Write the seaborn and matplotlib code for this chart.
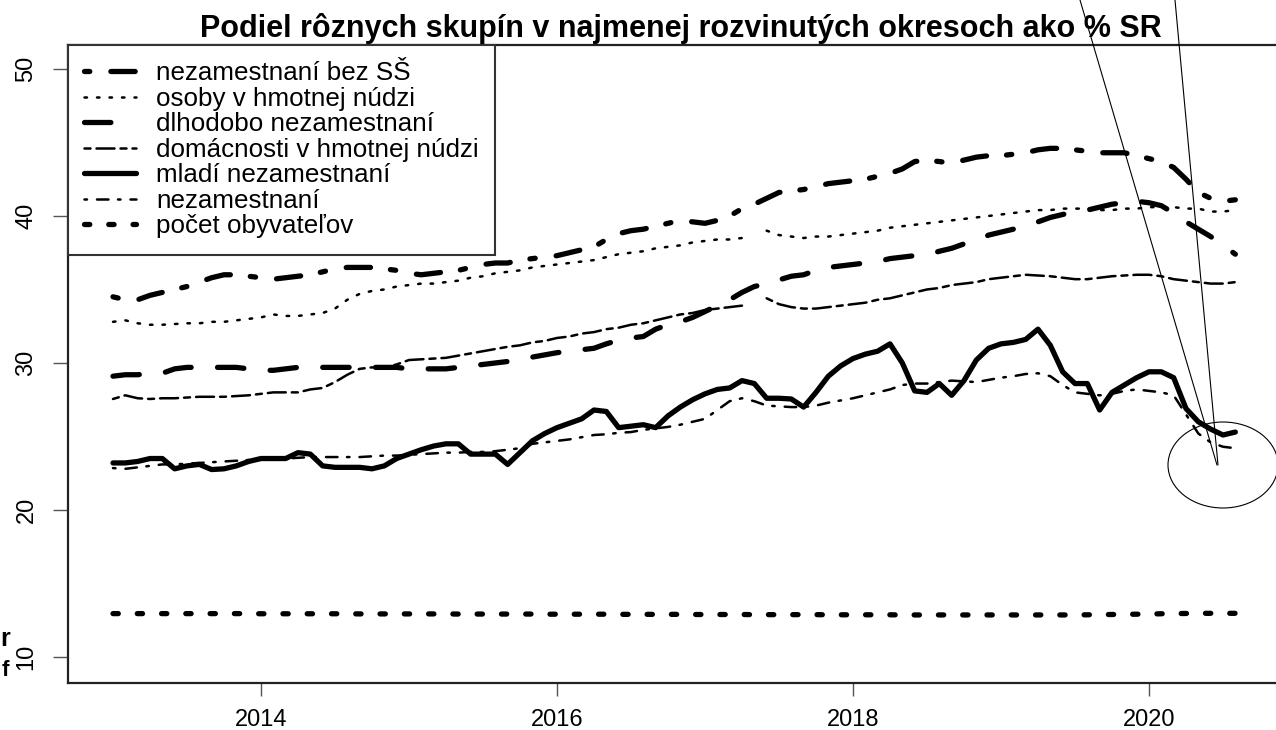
import numpy as np
import pandas as pd
import matplotlib.pyplot as plt
import seaborn as sns
from matplotlib.lines import Line2D
from matplotlib.patches import Ellipse

nan = np.nan
# monthly values, Jan 2013 - Aug 2020 (% of SR)
bez_ss = [34.5, 34.3, 34.3, 34.6, 34.8, 35.0, 35.2, 35.5, 35.8, 36.0,
          36.0, 35.9, 35.8, 35.7, 35.8, 35.9, 36.0, 36.2, 36.4, 36.5,
          36.5, 36.5, 36.4, 36.3, 36.1, 36.0, 36.1, 36.2, 36.3, 36.5,
          36.7, 36.8, 36.8, 37.0, 37.1, 37.2, 37.3, 37.5, 37.7, 37.9,
          38.4, 38.8, 39.0, 39.1, 39.3, 39.5, 39.7, 39.6, 39.5, 39.7,
          40.0, 40.5, 40.8, 41.2, 41.6, 41.7, 41.8, 42.0, 42.2, 42.3,
          42.4, 42.5, 42.7, 42.9, 43.2, 43.7, 43.8, 43.7, 43.6, 43.8,
          44.0, 44.1, 44.1, 44.2, 44.3, 44.5, 44.6, 44.6, 44.5, 44.4,
          44.3, 44.3, 44.3, 44.1, 43.9, 43.7, 43.3, 42.5, 41.6, 41.2,
          41.0, 41.1]
osoby = [32.8, 32.9, 32.7, 32.6, 32.6, 32.65, 32.7, 32.7, 32.8, 32.8,
         32.9, 33.0, 33.1, 33.3, 33.2, 33.2, 33.3, 33.4, 33.7, 34.3,
         34.7, 34.9, 35.0, 35.2, 35.3, 35.4, 35.4, 35.5, 35.6, 35.8,
         35.9, 36.1, 36.2, 36.3, 36.5, 36.6, 36.7, 36.8, 36.9, 37.0,
         37.2, 37.4, 37.5, 37.6, 37.8, 37.9, 38.0, 38.2, 38.3, 38.4,
         38.4, 38.5, nan, 39.0, 38.7, 38.6, 38.5, 38.6, 38.6, 38.7,
         38.8, 38.9, 39.0, 39.2, 39.3, 39.4, 39.5, 39.6, 39.7, 39.8,
         39.9, 40.0, 40.1, 40.2, 40.3, 40.4, 40.4, 40.5, 40.5, 40.5,
         40.4, 40.4, 40.5, 40.5, 40.6, 40.6, 40.6, 40.5, 40.5, 40.3,
         40.3, 40.4]
dlhodobo = [29.1, 29.2, 29.2, 29.3, 29.3, 29.6, 29.7, 29.7, 29.7, 29.7,
            29.7, 29.6, 29.5, 29.5, 29.6, 29.7, 29.7, 29.7, 29.7, 29.7,
            29.7, 29.7, 29.7, 29.7, 29.6, 29.6, 29.6, 29.6, 29.7, 29.8,
            29.9, 30.0, 30.1, 30.2, 30.4, 30.55, 30.7, 30.8, 30.9, 31.0,
            31.3, 31.55, 31.7, 31.8, 32.3, 32.6, 32.8, 33.1, 33.5, 33.9,
            34.3, 34.8, 35.2, 35.4, 35.65, 35.9, 36.0, 36.3, 36.5, 36.6,
            36.7, 36.8, 36.9, 37.1, 37.2, 37.3, 37.35, 37.6, 37.8, 38.1,
            38.3, 38.7, 38.9, 39.1, 39.3, 39.6, 39.9, 40.1, 40.3, 40.4,
            40.6, 40.8, 40.9, 41.0, 40.9, 40.7, 40.2, 39.6, 39.1, 38.6,
            38.0, 37.4]
domacnosti = [27.55, 27.8, 27.6, 27.55, 27.6, 27.6, 27.65, 27.7, 27.7, 27.7,
              27.75, 27.8, 27.9, 28.0, 28.0, 28.0, 28.2, 28.3, 28.7, 29.2,
              29.6, 29.7, 29.7, 29.9, 30.2, 30.25, 30.3, 30.35, 30.5, 30.65,
              30.8, 30.95, 31.1, 31.2, 31.4, 31.5, 31.7, 31.8, 32.0, 32.1,
              32.3, 32.4, 32.6, 32.7, 32.9, 33.1, 33.3, 33.4, 33.6, 33.7,
              33.8, 33.9, nan, 34.4, 34.0, 33.8, 33.7, 33.7, 33.8, 33.9,
              34.0, 34.1, 34.3, 34.4, 34.6, 34.8, 35.0, 35.1, 35.3, 35.4,
              35.5, 35.7, 35.8, 35.9, 36.0, 35.95, 35.9, 35.8, 35.7, 35.7,
              35.8, 35.9, 35.95, 36.0, 36.0, 35.9, 35.7, 35.6, 35.5, 35.4,
              35.4, 35.5]
mladi = [23.2, 23.2, 23.3, 23.5, 23.5, 22.8, 23.0, 23.1, 22.75, 22.8,
         23.0, 23.3, 23.5, 23.5, 23.5, 23.9, 23.8, 23.0, 22.9, 22.9,
         22.9, 22.8, 23.0, 23.5, 23.8, 24.1, 24.35, 24.5, 24.5, 23.8,
         23.8, 23.8, 23.1, 23.9, 24.7, 25.2, 25.6, 25.9, 26.2, 26.8,
         26.7, 25.6, 25.7, 25.8, 25.6, 26.4, 27.0, 27.5, 27.9, 28.2,
         28.3, 28.8, 28.6, 27.6, 27.6, 27.55, 27.0, 28.0, 29.1, 29.8,
         30.3, 30.6, 30.8, 31.3, 30.0, 28.1, 28.0, 28.6, 27.8, 28.8,
         30.2, 31.0, 31.3, 31.4, 31.6, 32.3, 31.2, 29.4, 28.6, 28.6,
         26.8, 28.0, 28.5, 29.0, 29.4, 29.4, 29.0, 26.9, 26.0, 25.5,
         25.1, 25.3]
nezam = [22.85, 22.8, 22.9, 23.0, 23.1, 23.1, 23.15, 23.2, 23.25, 23.3,
         23.35, 23.4, 23.45, 23.5, 23.5, 23.55, 23.6, 23.6, 23.6, 23.6,
         23.6, 23.65, 23.7, 23.7, 23.75, 23.8, 23.85, 23.9, 23.9, 23.95,
         23.95, 24.0, 24.1, 24.2, 24.5, 24.6, 24.7, 24.8, 24.95, 25.1,
         25.15, 25.25, 25.3, 25.45, 25.55, 25.65, 25.8, 26.0, 26.2, 26.8,
         27.4, 27.6, 27.4, 27.1, 27.05, 27.0, 27.0, 27.1, 27.3, 27.45,
         27.6, 27.8, 28.0, 28.2, 28.5, 28.6, 28.6, 28.7, 28.8, 28.75,
         28.7, 28.85, 29.0, 29.1, 29.25, 29.3, 29.1, 28.5, 28.0, 27.9,
         27.8, 27.9, 28.1, 28.2, 28.1, 28.0, 27.8, 26.5, 25.2, 24.6,
         24.3, 24.2]
pocet = [12.95, 12.95, 12.95, 12.95, 12.95, 12.95, 12.95, 12.95, 12.95, 12.95,
         12.95, 12.95, 12.94, 12.94, 12.94, 12.94, 12.94, 12.94, 12.94, 12.94,
         12.93, 12.93, 12.93, 12.93, 12.93, 12.93, 12.93, 12.93, 12.92, 12.92,
         12.92, 12.92, 12.92, 12.92, 12.92, 12.91, 12.91, 12.91, 12.91, 12.91,
         12.91, 12.90, 12.90, 12.90, 12.90, 12.90, 12.90, 12.89, 12.89, 12.89,
         12.89, 12.89, 12.88, 12.88, 12.88, 12.88, 12.88, 12.88, 12.87, 12.87,
         12.87, 12.87, 12.87, 12.87, 12.86, 12.86, 12.86, 12.86, 12.86, 12.86,
         12.86, 12.86, 12.86, 12.86, 12.86, 12.86, 12.86, 12.86, 12.86, 12.87,
         12.88, 12.89, 12.90, 12.91, 12.92, 12.94, 12.95, 12.96, 12.97, 12.97,
         12.97, 12.97]

labels = ['nezamestnaní bez SŠ', 'osoby v hmotnej núdzi', 'dlhodobo nezamestnaní',
          'domácnosti v hmotnej núdzi', 'mladí nezamestnaní', 'nezamestnaní',
          'počet obyvateľov']
series = [bez_ss, osoby, dlhodobo, domacnosti, mladi, nezam, pocet]
xticks = [2014, 2016, 2018, 2020]
yticks = [10, 20, 30, 40, 50]

# R-like line types (lengths in linewidth units)
THICK, THIN = 3.8, 1.8
styles = [
    (THICK, (0, (1, 4, 4.6, 3.8))),
    (THIN, (0, (1, 4))),
    (THICK, (0, (5, 5))),
    (THIN, (0, (2.4, 2.4, 7.2, 2.4))),
    (THICK, '-'),
    (THIN, (0, (1, 4, 4.6, 3.8))),
    (THICK, (0, (1, 3.6))),
]

sns.set_style('ticks')
plt.rcParams['font.family'] = ['Liberation Sans', 'DejaVu Sans']
plt.rcParams['text.color'] = 'black'

t = 2013 + np.arange(len(bez_ss)) / 12.0
frames = []
for name, vals in zip(labels, series):
    v = np.array(vals, dtype=float)
    seg = np.cumsum(np.isnan(v))
    frames.append(pd.DataFrame({'t': t, 'value': v, 'series': name, 'seg': seg}))
df = pd.concat(frames).dropna()

fig = plt.figure(figsize=(12.76, 7.30), dpi=100)
ax = fig.add_axes([68/1276, 1-683/730, 1225/1276, 638/730])

handles = []
for name, (lw, ls) in zip(labels, styles):
    sub = df[df['series'] == name]
    sns.lineplot(data=sub, x='t', y='value', units='seg', estimator=None,
                 color='black', linewidth=lw, linestyle=ls,
                 dash_capstyle='round', solid_capstyle='round', ax=ax)
    handles.append(Line2D([], [], color='black', linewidth=lw, linestyle=ls,
                          dash_capstyle='round', solid_capstyle='round', label=name))

ax.set_xlim(2012.696, 2020.973)
ax.set_ylim(8.23, 51.63)
ax.set_xticks(xticks)
ax.set_xticklabels([str(x) for x in xticks])
ax.set_yticks(yticks)
ax.set_yticklabels([str(y) for y in yticks])
ax.set_xlabel('')
ax.set_ylabel('')
for s in ['left', 'bottom', 'top']:
    ax.spines[s].set_linewidth(1.6)
    ax.spines[s].set_color('#222222')
ax.spines['right'].set_visible(False)
ax.tick_params(axis='x', direction='out', length=9, width=1, color='#555555',
               labelsize=17, pad=10, labelcolor='black')
ax.tick_params(axis='y', direction='out', length=11, width=1, color='#555555',
               labelsize=17, pad=11, labelrotation=90, labelcolor='black')
for lab in ax.get_yticklabels():
    lab.set_va('center')

leg = ax.legend(handles=handles, loc='upper left', bbox_to_anchor=(0, 1),
                borderaxespad=0, fontsize=18.7, frameon=True, fancybox=False,
                framealpha=1, edgecolor='#333333', handlelength=2.0,
                handletextpad=0.77, borderpad=0.62, labelspacing=0.06)
leg.get_frame().set_linewidth(1.5)
for txt in leg.get_texts():
    txt.set_color('black')

fig.text(681/1276, 1-28/730, 'Podiel rôznych skupín v najmenej rozvinutých okresoch ako % SR',
         ha='center', va='center', fontsize=22, fontweight='bold', color='black')

# hand-drawn overlay
fig.add_artist(Line2D([1080/1276, 1217/1276], [1, 1-465/730], color='black',
                      linewidth=0.8, transform=fig.transFigure))
fig.add_artist(Line2D([1175/1276, 1218/1276], [1, 1-465/730], color='black',
                      linewidth=0.8, transform=fig.transFigure))
fig.add_artist(Ellipse((1223/1276, 1-465/730), 110/1276, 86/730, fill=False,
                       edgecolor='black', linewidth=0.8, transform=fig.transFigure))

fig.text(0/1276, 1-639/730, 'r', ha='left', va='center', fontsize=18, fontweight='bold')
fig.text(2/1276, 1-670/730, 'f', ha='left', va='center', fontsize=16, fontweight='bold')

fig.savefig('out.png', dpi=100)
